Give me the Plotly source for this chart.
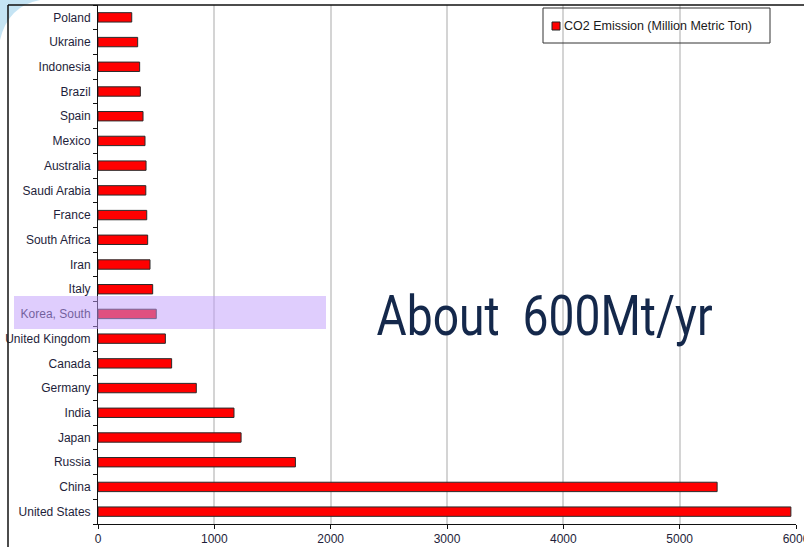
import plotly.graph_objects as go

# Countries listed bottom-to-top on the category axis
countries = [
    "United States", "China", "Russia", "Japan", "India", "Germany", "Canada",
    "United Kingdom", "Korea, South", "Italy", "Iran", "South Africa", "France",
    "Saudi Arabia", "Australia", "Mexico", "Spain", "Brazil", "Indonesia",
    "Ukraine", "Poland",
]
# CO2 emission, million metric tons
emissions = [
    5956, 5322, 1697, 1230, 1169, 845, 633,
    579, 501, 470, 447, 427, 419,
    411, 413, 404, 387, 364, 358,
    341, 290,
]
x_ticks = [0, 1000, 2000, 3000, 4000, 5000, 6000]
series_name = "CO2 Emission (Million Metric Ton)"
callout = "About  600Mt/yr"

W, H = 804, 547
ML, MR, MT, MB = 98, 8, 5, 23
PW, PH = W - ML - MR, H - MT - MB


def px_x(p):
    return (p - ML) / PW


def px_y(p):
    return (H - MB - p) / PH


fig = go.Figure()
fig.add_trace(go.Bar(
    x=emissions, y=countries, orientation="h",
    name=series_name, width=0.38,
    marker=dict(color="#ff0000", line=dict(color="#2a2a2a", width=1)),
    showlegend=False,
))

shapes = [
    # frame lines (top and left)
    dict(type="line", xref="paper", yref="paper",
         x0=px_x(8), x1=1.02, y0=1, y1=1, line=dict(color="#111", width=1.5)),
    dict(type="line", xref="paper", yref="paper",
         x0=px_x(8), x1=px_x(8), y0=1, y1=-0.1, line=dict(color="#111", width=1.5)),
    # light blue corner swoosh
    dict(type="path", xref="paper", yref="paper", layer="below",
         path=f"M {px_x(0)},{px_y(0)} L {px_x(40)},{px_y(0)} "
              f"Q {px_x(8)},{px_y(6)} {px_x(0)},{px_y(40)} Z",
         fillcolor="rgba(150,205,235,0.55)", line=dict(width=0)),
    # highlight band over Korea, South
    dict(type="rect", xref="paper", yref="paper", layer="above",
         x0=px_x(14), x1=px_x(326), y0=px_y(329), y1=px_y(296),
         fillcolor="rgba(192,157,251,0.51)", line=dict(width=0)),
    # legend box with its swatch
    dict(type="rect", xref="paper", yref="paper", layer="above",
         x0=px_x(543), x1=px_x(770), y0=px_y(43), y1=px_y(8),
         fillcolor="rgba(0,0,0,0)", line=dict(color="#333", width=1)),
    dict(type="rect", xref="paper", yref="paper", layer="above",
         x0=px_x(552), x1=px_x(560), y0=px_y(30), y1=px_y(22),
         fillcolor="#ff0000", line=dict(color="#222", width=1)),
]

annotations = [
    # legend text
    dict(xref="paper", yref="paper", x=px_x(562), y=px_y(26),
         xanchor="left", yanchor="middle", showarrow=False,
         text=series_name,
         font=dict(family="Liberation Sans, Arial", size=12.5, color="#1a1a1a")),
    # call-out text
    dict(xref="paper", yref="paper", x=px_x(544), y=px_y(316),
         xanchor="center", yanchor="middle", showarrow=False,
         text=callout,
         font=dict(family="Roboto, sans-serif", size=56, color="#14284b")),
]

fig.update_layout(
    width=W, height=H,
    margin=dict(l=ML, r=MR, t=MT, b=MB, autoexpand=False),
    paper_bgcolor="white", plot_bgcolor="white",
    bargap=0.63,
    font=dict(family="Liberation Sans, Arial", size=12, color="#1e1e3a"),
    shapes=shapes, annotations=annotations,
    xaxis=dict(range=[0, 6000], tickvals=x_ticks, automargin=False,
               ticklabeloverflow="allow",
               showgrid=True, gridcolor="#d4d4d4", gridwidth=1.5,
               showline=True, linecolor="#111", linewidth=1,
               ticks="outside", ticklen=4, tickcolor="#111",
               zeroline=False, fixedrange=True),
    yaxis=dict(categoryorder="array", categoryarray=countries, automargin=False,
               showline=True, linecolor="#111", linewidth=1,
               ticks="outside", ticklen=4, tickcolor="#111",
               tickson="boundaries", showgrid=False, ticklabelstandoff=4,
               fixedrange=True),
)

# Condense the call-out lettering horizontally (narrow display face)
condense_js = """
var gd = document.getElementById('{plot_id}');
function condense() {
  gd.querySelectorAll('text.annotation-text').forEach(function (t) {
    if (t.textContent.indexOf('600Mt') >= 0) {
      t.setAttribute('textLength', '336');
      t.setAttribute('lengthAdjust', 'spacingAndGlyphs');
    }
  });
}
condense();
gd.on('plotly_afterplot', condense);
"""

fig.write_html("out.html", post_script=condense_js)
